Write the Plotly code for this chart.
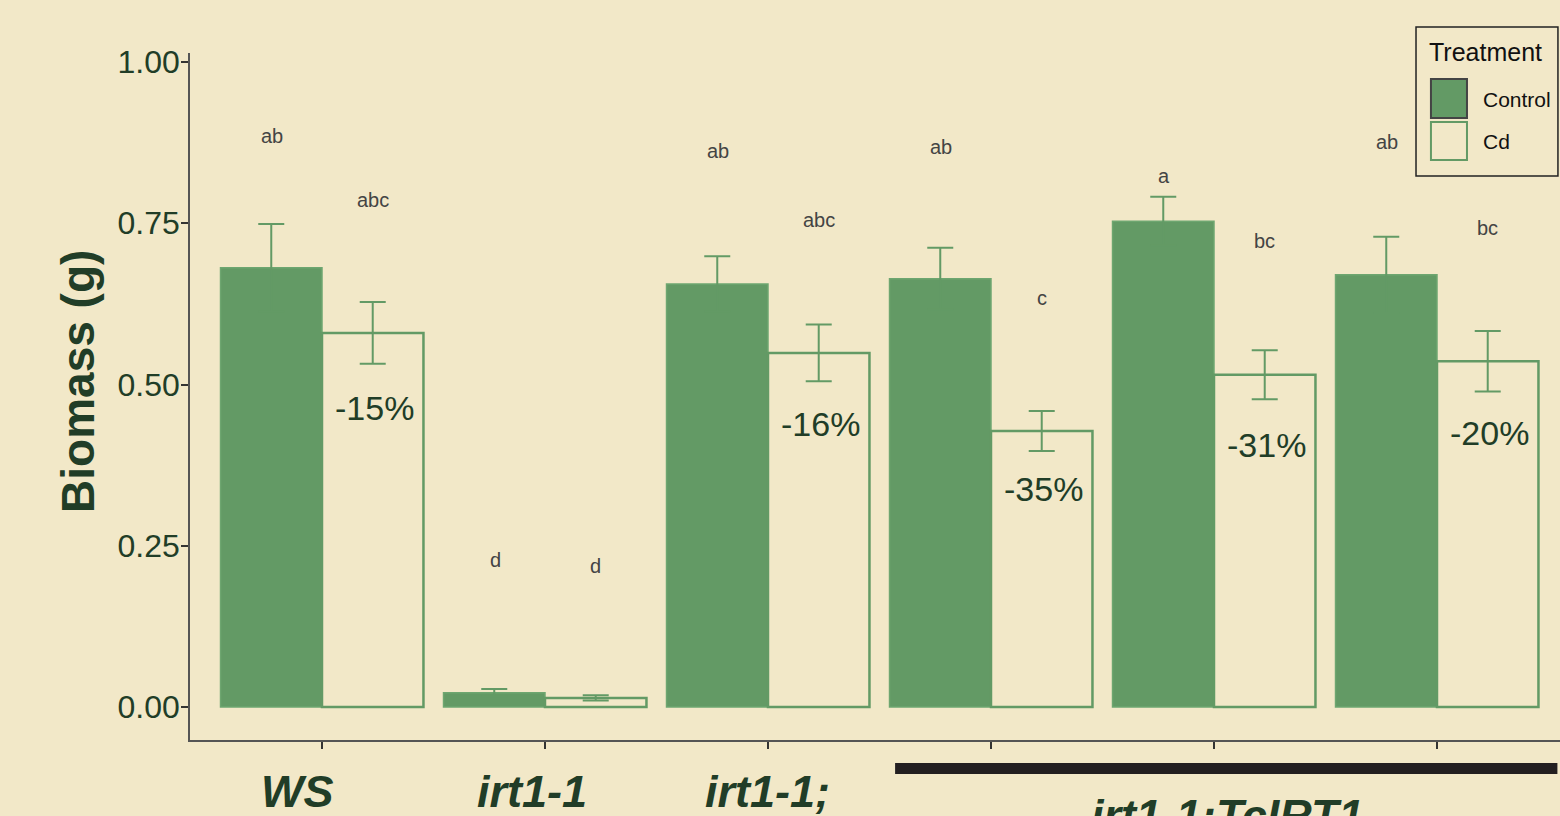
import plotly.graph_objects as go

genotypes = ["WS", "irt1-1", "irt1-1;", "L1", "L2", "L3"]
x_labels = ["WS", "irt1-1", "irt1-1;"]
group_label = "irt1-1:TcIRT1"

control_mean = [0.681, 0.022, 0.656, 0.664, 0.753, 0.670]
control_se = [0.068, 0.006, 0.043, 0.048, 0.038, 0.059]
cd_mean = [0.580, 0.014, 0.549, 0.428, 0.515, 0.536]
cd_se = [0.048, 0.004, 0.044, 0.031, 0.038, 0.047]

control_letters = ["ab", "d", "ab", "ab", "a", "ab"]
control_letter_y = [0.885, 0.228, 0.862, 0.868, 0.823, 0.876]
cd_letters = ["abc", "d", "abc", "c", "bc", "bc"]
cd_letter_y = [0.786, 0.219, 0.755, 0.634, 0.722, 0.743]

pct_labels = ["-15%", None, "-16%", "-35%", "-31%", "-20%"]
pct_y = [0.464, None, 0.439, 0.338, 0.406, 0.425]

BG = "#F2E8C8"
GREEN = "#639A65"
DARK = "#213D27"
GRAY = "#444444"
FONT = "Liberation Sans"

fig = go.Figure()
fig.add_trace(go.Bar(
    x=genotypes, y=control_mean, name="Control",
    marker=dict(color=GREEN, line=dict(color="#6EA670", width=1.5)),
    error_y=dict(type="data", array=control_se, color=GREEN, thickness=2, width=13),
    showlegend=False,
))
fig.add_trace(go.Bar(
    x=genotypes, y=cd_mean, name="Cd",
    marker=dict(color=BG, line=dict(color=GREEN, width=2.5)),
    error_y=dict(type="data", array=cd_se, color=GREEN, thickness=2, width=13),
    showlegend=False,
))

half = 50.75  # half bar width in px
annotations = []
for g, lt, ly in zip(genotypes, control_letters, control_letter_y):
    annotations.append(dict(x=g, y=ly, text=lt, xref="x", yref="y", showarrow=False,
                            xshift=-half + 1, font=dict(family=FONT, size=20, color=GRAY)))
for g, lt, ly in zip(genotypes, cd_letters, cd_letter_y):
    annotations.append(dict(x=g, y=ly, text=lt, xref="x", yref="y", showarrow=False,
                            xshift=half, font=dict(family=FONT, size=20, color=GRAY)))
for g, pt, py in zip(genotypes, pct_labels, pct_y):
    if pt is None:
        continue
    annotations.append(dict(x=g, y=py, text=pt, xref="x", yref="y", showarrow=False,
                            xshift=half + 2, font=dict(family=FONT, size=34, color=DARK)))

# x category labels
label_shift = [-24, -13, 0]
for g, lab, sh in zip(genotypes, x_labels, label_shift):
    annotations.append(dict(x=g, y=-0.1150, xref="x", yref="paper", text="<b><i>%s</i></b>" % lab,
                            showarrow=False, xshift=sh, yanchor="bottom",
                            font=dict(family=FONT, size=45, color=DARK)))
annotations.append(dict(x=genotypes[4], y=-0.1095, xref="x", yref="paper",
                        text="<b><i>%s</i></b>" % group_label, showarrow=False, xshift=14,
                        yanchor="middle", font=dict(family=FONT, size=45, color=DARK)))

# y-axis title
annotations.append(dict(x=-0.0818, y=0.5226, xref="paper", yref="paper",
                        text="<b>Biomass (g)</b>", textangle=-90, showarrow=False,
                        xanchor="center", yanchor="middle",
                        font=dict(family=FONT, size=46, color=DARK)))

# legend drawn manually
annotations.append(dict(x=0.9028, y=1.0015, xref="paper", yref="paper", text="Treatment",
                        showarrow=False, xanchor="left", yanchor="middle",
                        font=dict(family=FONT, size=25, color="#111111")))
annotations.append(dict(x=0.9424, y=0.9330, xref="paper", yref="paper", text="Control",
                        showarrow=False, xanchor="left", yanchor="middle",
                        font=dict(family=FONT, size=21, color="#111111")))
annotations.append(dict(x=0.9424, y=0.8719, xref="paper", yref="paper", text="Cd",
                        showarrow=False, xanchor="left", yanchor="middle",
                        font=dict(family=FONT, size=21, color="#111111")))

shapes = [
    # bracket bar under transgenic lines
    dict(type="rect", xref="x", yref="paper", x0=3 - 0.43, x1=5 + 0.54,
         y0=-0.0495, y1=-0.0335, fillcolor="#231F20", line=dict(width=0)),
    # legend box
    dict(type="rect", xref="paper", yref="paper", x0=0.8949, x1=0.9985, y0=0.8210, y1=1.0378,
         fillcolor=BG, line=dict(color="#222222", width=1.5)),
    dict(type="rect", xref="paper", yref="paper", x0=0.9058, x1=0.9321, y0=0.9054, y1=0.9622,
         fillcolor=GREEN, line=dict(color="#444444", width=2)),
    dict(type="rect", xref="paper", yref="paper", x0=0.9058, x1=0.9321, y0=0.8443, y1=0.8996,
         fillcolor=BG, line=dict(color=GREEN, width=2)),
]

fig.update_layout(
    width=1560, height=816,
    margin=dict(l=190, r=0, t=53, b=76),
    paper_bgcolor=BG, plot_bgcolor=BG,
    barmode="group", bargap=0.09, bargroupgap=0,
    annotations=annotations, shapes=shapes,
    xaxis=dict(range=[-0.5919, 5.5516], showticklabels=False, ticks="outside", ticklen=7,
               tickwidth=1.5, tickcolor="#333333", showline=True, linecolor="#555555",
               linewidth=1.5, showgrid=False, zeroline=False),
    yaxis=dict(range=[-0.0512, 1.014], tickvals=[0, 0.25, 0.5, 0.75, 1.0],
               ticktext=["0.00", "0.25", "0.50", "0.75", "1.00"], ticks="outside", ticklen=7,
               tickwidth=1.5, tickcolor="#333333", showline=True, linecolor="#555555",
               linewidth=1.5, showgrid=False, zeroline=False, ticklabelstandoff=-5,
               tickfont=dict(family=FONT, size=32, color=DARK)),
)

fig.write_html("out.html")
